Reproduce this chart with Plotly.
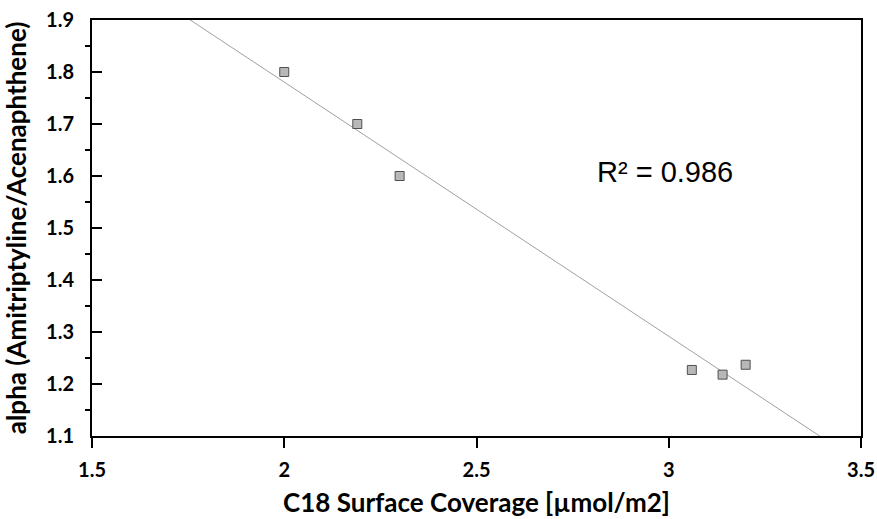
import numpy as np
import plotly.graph_objects as go

coverage = [2.00, 2.19, 2.30, 3.06, 3.14, 3.20]
alpha = [1.80, 1.70, 1.60, 1.227, 1.218, 1.237]
x_tickvals = [1.5, 2.0, 2.5, 3.0, 3.5]
x_ticktext = ["1.5", "2", "2.5", "3", "3.5"]
y_tickvals = [1.1, 1.2, 1.3, 1.4, 1.5, 1.6, 1.7, 1.8, 1.9]
y_ticktext = ["1.1", "1.2", "1.3", "1.4", "1.5", "1.6", "1.7", "1.8", "1.9"]
y_minor_vals = [1.15, 1.25, 1.35, 1.45, 1.55, 1.65, 1.75, 1.85]
r2_label = "R² = 0.986"
x_title = "C18 Surface Coverage [µmol/m2]"
y_title = "alpha (Amitriptyline/Acenaphthene)"

slope, intercept = np.polyfit(coverage, alpha, 1)
fit_x = [1.5, 3.5]
fit_y = [slope * v + intercept for v in fit_x]

fig = go.Figure()
fig.add_trace(go.Scatter(x=fit_x, y=fit_y, mode="lines",
                         line=dict(color="#a0a0a0", width=1), hoverinfo="skip"))
fig.add_trace(go.Scatter(x=coverage, y=alpha, mode="markers",
                         marker=dict(symbol="square", size=9, color="#b8b8b8",
                                     line=dict(color="#505050", width=1))))

tickfont = dict(family="Lato", size=20, color="black", weight="bold")
titlefont = dict(family="Lato", size=26, color="black", weight="bold")
fig.update_layout(
    width=877, height=519,
    margin=dict(l=92, r=16, t=20, b=83),
    paper_bgcolor="white", plot_bgcolor="white",
    showlegend=False,
    annotations=[dict(x=2.99, y=1.607, xref="x", yref="y", text=r2_label,
                      showarrow=False,
                      font=dict(family="Liberation Sans", size=29, color="black"))],
)
fig.update_xaxes(range=[1.5, 3.5], tickvals=x_tickvals, ticktext=x_ticktext,
                 automargin=False,
                 showgrid=False, zeroline=False,
                 showline=True, linecolor="black", linewidth=2, mirror=True,
                 ticks="outside", ticklen=10, tickcolor="black", tickwidth=1.5,
                 ticklabelstandoff=5,
                 tickfont=tickfont,
                 title=dict(text=x_title, standoff=14, font=titlefont))
fig.update_yaxes(range=[1.1, 1.9], tickvals=y_tickvals, ticktext=y_ticktext,
                 automargin=False,
                 showgrid=False, zeroline=False,
                 showline=True, linecolor="black", linewidth=2, mirror=True,
                 ticks="inside", ticklen=10, tickcolor="black", tickwidth=1.5,
                 minor=dict(ticks="outside", ticklen=5, tickvals=y_minor_vals,
                            tickcolor="black", tickwidth=1.5, showgrid=False),
                 ticklabelstandoff=12,
                 tickfont=tickfont,
                 title=dict(text=y_title, standoff=12, font=titlefont))

fig.write_html("out.html")
